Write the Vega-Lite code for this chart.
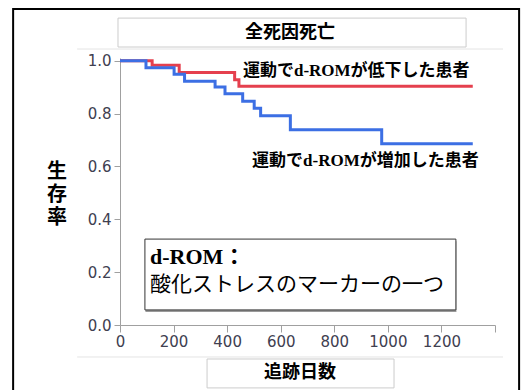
{
  "$schema": "https://vega.github.io/schema/vega-lite/v6.json",
  "width": 375,
  "height": 267,
  "autosize": "none",
  "padding": {"left": 120, "top": 58, "right": 33, "bottom": 65},
  "background": "white",
  "config": {"view": {"stroke": null}},
  "layer": [
    {
      "data": {"values": [{}]},
      "mark": {"type": "rect", "fill": null, "stroke": "#000000", "strokeWidth": 2},
      "encoding": {
        "x": {"datum": -399, "type": "quantitative"}, "x2": {"datum": 1490},
        "y": {"datum": 1.195, "type": "quantitative"}, "y2": {"datum": -0.3}
      }
    },
    {
      "data": {"values": [{}]},
      "mark": {"type": "rule", "stroke": "#e4e4e4", "strokeWidth": 1},
      "encoding": {
        "x": {"datum": -160, "type": "quantitative"}, "x2": {"datum": 1430},
        "y": {"datum": 1.044, "type": "quantitative"}
      }
    },
    {
      "data": {"values": [{}]},
      "mark": {"type": "rule", "stroke": "#e4e4e4", "strokeWidth": 1},
      "encoding": {
        "x": {"datum": -160, "type": "quantitative"}, "x2": {"datum": 1430},
        "y": {"datum": -0.121, "type": "quantitative"}
      }
    },
    {
      "data": {"values": [{}]},
      "mark": {"type": "rect", "fill": "white", "stroke": "#cccccc", "strokeWidth": 1},
      "encoding": {
        "x": {"datum": -7.5, "type": "quantitative"}, "x2": {"datum": 1292},
        "y": {"datum": 1.161, "type": "quantitative"}, "y2": {"datum": 1.0516}
      }
    },
    {
      "data": {"values": [{}]},
      "mark": {"type": "text", "text": "全死因死亡", "font": "Noto Sans CJK JP", "fontSize": 18, "fontWeight": "bold", "align": "center", "baseline": "middle", "color": "#000000"},
      "encoding": {
        "x": {"datum": 635, "type": "quantitative"},
        "y": {"datum": 1.106, "type": "quantitative"}
      }
    },
    {
      "data": {"values": [{}]},
      "mark": {"type": "rect", "fill": "white", "stroke": "#cccccc", "strokeWidth": 1},
      "encoding": {
        "x": {"datum": 325, "type": "quantitative"}, "x2": {"datum": 1023},
        "y": {"datum": -0.1286, "type": "quantitative"}, "y2": {"datum": -0.238}
      }
    },
    {
      "data": {"values": [{}]},
      "mark": {"type": "text", "text": "追跡日数", "font": "Noto Sans CJK JP", "fontSize": 18, "fontWeight": "bold", "align": "center", "baseline": "middle", "color": "#000000"},
      "encoding": {
        "x": {"datum": 672, "type": "quantitative"},
        "y": {"datum": -0.1815, "type": "quantitative"}
      }
    },
    {
      "data": {"values": [{}]},
      "mark": {"type": "text", "text": ["生", "存", "率"], "lineHeight": 23, "font": "Noto Sans CJK JP", "fontSize": 20, "fontWeight": "bold", "align": "center", "baseline": "middle", "color": "#000000"},
      "encoding": {
        "x": {"datum": -235, "type": "quantitative"},
        "y": {"datum": 0.579, "type": "quantitative"}
      }
    },
    {
      "data": {"values": [
        {"group": "低下", "day": 0, "surv": 1.0},
        {"group": "低下", "day": 120, "surv": 0.983},
        {"group": "低下", "day": 221, "surv": 0.955},
        {"group": "低下", "day": 428, "surv": 0.928},
        {"group": "低下", "day": 444, "surv": 0.903},
        {"group": "低下", "day": 1317, "surv": 0.903},
        {"group": "増加", "day": 0, "surv": 1.0},
        {"group": "増加", "day": 97, "surv": 0.973},
        {"group": "増加", "day": 202, "surv": 0.949},
        {"group": "増加", "day": 241, "surv": 0.922},
        {"group": "増加", "day": 355, "surv": 0.9},
        {"group": "増加", "day": 392, "surv": 0.875},
        {"group": "増加", "day": 458, "surv": 0.846},
        {"group": "増加", "day": 501, "surv": 0.82},
        {"group": "増加", "day": 525, "surv": 0.792},
        {"group": "増加", "day": 636, "surv": 0.739},
        {"group": "増加", "day": 977, "surv": 0.686},
        {"group": "増加", "day": 1317, "surv": 0.686}
      ]},
      "mark": {"type": "line", "interpolate": "step-after", "strokeWidth": 3},
      "encoding": {
        "x": {"field": "day", "type": "quantitative",
          "scale": {"domain": [0, 1400], "nice": false, "zero": false},
          "axis": {
            "title": null, "values": [0,100,200,300,400,500,600,700,800,900,1000,1100,1200,1300,1400],
            "labelExpr": "datum.value % 200 == 0 && datum.value <= 1200 ? datum.label : ''",
            "format": "d",
            "grid": false, "domainColor": "#a0a0a0", "tickColor": "#a0a0a0",
            "tickSize": {"condition": {"test": "datum.value % 200 == 0", "value": 7}, "value": 3},
            "labelFont": "DejaVu Sans", "labelFontSize": 15, "labelColor": "#404050", "labelPadding": 2,
            "labelFlush": false, "labelOverlap": false
          }
        },
        "y": {"field": "surv", "type": "quantitative",
          "scale": {"domain": [0, 1.01], "nice": false, "zero": false},
          "axis": {
            "title": null, "values": [0,0.1,0.2,0.3,0.4,0.5,0.6,0.7,0.8,0.9,1.0],
            "labelExpr": "round(datum.value*10) % 2 == 0 ? format(datum.value, '.1f') : ''",
            "grid": false, "domainColor": "#a0a0a0", "tickColor": "#a0a0a0",
            "tickSize": {"condition": {"test": "round(datum.value*10) % 2 == 0", "value": 6}, "value": 3},
            "labelFont": "DejaVu Sans", "labelFontSize": 15, "labelColor": "#404050", "labelPadding": 3,
            "labelFlush": false, "labelOverlap": false
          }
        },
        "color": {"field": "group", "type": "nominal",
          "scale": {"domain": ["低下", "増加"], "range": ["#e5404e", "#3c6fe4"]},
          "legend": null}
      }
    },
    {
      "data": {"values": [{}]},
      "mark": {"type": "text", "text": "運動でd-ROMが低下した患者", "font": "Liberation Serif, Noto Sans CJK JP", "fontSize": 17, "fontWeight": "bold", "align": "left", "baseline": "middle", "color": "#000000"},
      "encoding": {
        "x": {"datum": 459, "type": "quantitative"},
        "y": {"datum": 0.959, "type": "quantitative"}
      }
    },
    {
      "data": {"values": [{}]},
      "mark": {"type": "text", "text": "運動でd-ROMが増加した患者", "font": "Liberation Serif, Noto Sans CJK JP", "fontSize": 17, "fontWeight": "bold", "align": "left", "baseline": "middle", "color": "#000000"},
      "encoding": {
        "x": {"datum": 493, "type": "quantitative"},
        "y": {"datum": 0.62, "type": "quantitative"}
      }
    },
    {
      "data": {"values": [{}]},
      "mark": {"type": "rect", "fill": "#9a9a9a", "stroke": null},
      "encoding": {
        "x": {"datum": 95, "type": "quantitative"}, "x2": {"datum": 1256},
        "y": {"datum": 0.317, "type": "quantitative"}, "y2": {"datum": 0.0494}
      }
    },
    {
      "data": {"values": [{}]},
      "mark": {"type": "rect", "fill": "white", "stroke": "#333333", "strokeWidth": 1},
      "encoding": {
        "x": {"datum": 93, "type": "quantitative"}, "x2": {"datum": 1254},
        "y": {"datum": 0.325, "type": "quantitative"}, "y2": {"datum": 0.057}
      }
    },
    {
      "data": {"values": [{}]},
      "mark": {"type": "text", "text": "d-ROM：", "font": "Liberation Serif, Noto Sans CJK JP", "fontSize": 22, "fontWeight": "bold", "align": "left", "baseline": "middle", "color": "#000000"},
      "encoding": {
        "x": {"datum": 112, "type": "quantitative"},
        "y": {"datum": 0.258, "type": "quantitative"}
      }
    },
    {
      "data": {"values": [{}]},
      "mark": {"type": "text", "text": "酸化ストレスのマーカーの一つ", "font": "Noto Sans CJK JP", "fontSize": 21, "align": "left", "baseline": "middle", "color": "#000000"},
      "encoding": {
        "x": {"datum": 112, "type": "quantitative"},
        "y": {"datum": 0.151, "type": "quantitative"}
      }
    }
  ]
}
